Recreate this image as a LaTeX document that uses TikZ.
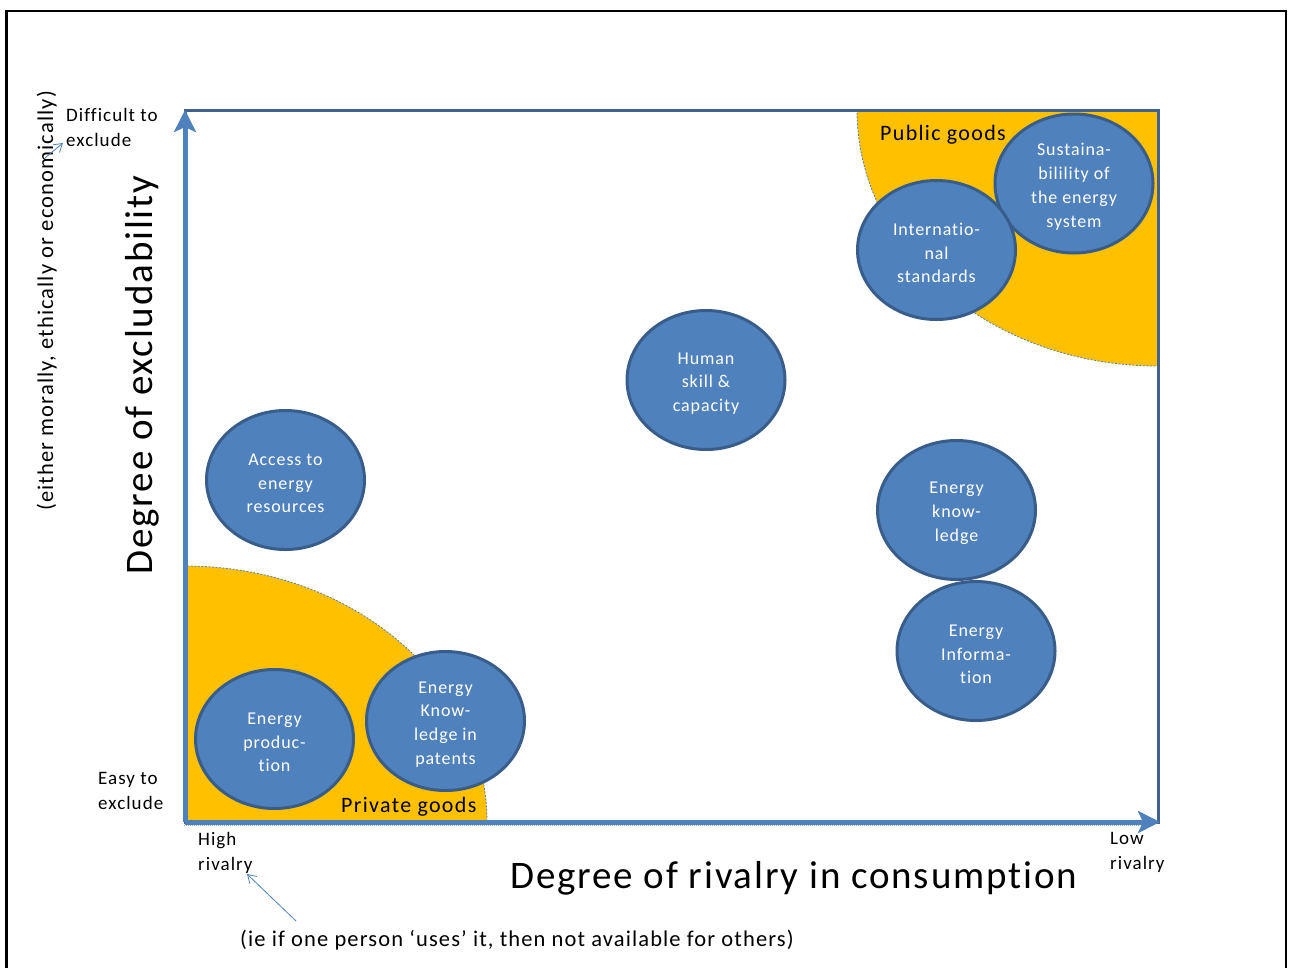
\documentclass[tikz,border=0pt]{standalone}
\usepackage{fontspec}
\setmainfont{Carlito}[Ligatures=NoCommon]
\usetikzlibrary{arrows.meta,shapes.geometric}
\definecolor{axisblue}{HTML}{4F81BD}
\definecolor{rimblue}{HTML}{385D8A}
\definecolor{plotrim}{HTML}{41618E}
\definecolor{gold}{HTML}{FFC000}
\newcommand\gtopstrut{\rule{0pt}{18.5pt}}
\begin{document}
\begin{tikzpicture}[x=1pt,y=-1pt,
  good/.style={ellipse, draw=rimblue, line width=3pt, fill=axisblue,
    minimum width=158pt, minimum height=139pt, inner sep=0pt,
    text=white, font=\fontsize{18}{23.8}\selectfont\addfontfeature{LetterSpace=5}, align=center},
  lbl/.style={font=\fontsize{19}{25}\selectfont\addfontfeature{LetterSpace=5.5}, align=left, anchor=north west, inner sep=0pt},
  zone/.style={font=\fontsize{22}{26}\selectfont\addfontfeature{LetterSpace=6}, anchor=base west, inner sep=0pt},
  axis/.style={axisblue, line width=5pt, -{Stealth[length=22pt,width=22pt,inset=5pt]}},
  note/.style={axisblue, line width=0.8pt, -{Straight Barb[length=8pt,width=10pt]}},
  big/.style={font=\fontsize{39}{44}\selectfont\addfontfeature{LetterSpace=4.75}, inner sep=0pt},
  mid/.style={font=\fontsize{22.5}{26}\selectfont\addfontfeature{LetterSpace=5}, inner sep=0pt, anchor=base},
]
\useasboundingbox (0,0) rectangle (1289,967);
% outer frame
\draw[black, line width=2.5pt] (6.5,980) -- (6.5,11) -- (1286,11) -- (1286,980);
% plot area
\fill[white] (185,110) rectangle (1158,822);
\begin{scope}
  \clip (185,110) rectangle (1158,822);
  \fill[gold] (1158,110) ellipse [x radius=301, y radius=256];
  \draw[axisblue, line width=0.8pt, dash pattern=on 2pt off 1.5pt] (1158,110) ellipse [x radius=301, y radius=256];
  \fill[gold] (185,822) ellipse [x radius=302, y radius=256];
  \draw[axisblue, line width=0.8pt, dash pattern=on 2pt off 1.5pt] (185,822) ellipse [x radius=302, y radius=256];
\end{scope}
\draw[plotrim, line width=3pt] (185,110) rectangle (1158,822);
% axes
\coordinate (origin) at (185,822);
\coordinate (ytop) at (185,110);
\coordinate (xend) at (1160,822);
\draw[gray!70, line width=1pt, dash pattern=on 1pt off 1pt] (184,825.5) -- (1140,825.5);
\draw[axis] (origin) -- (ytop);
\draw[axis] (origin) -- (xend);
% zone labels
\node[zone] (pub) at (880,140) {Public goods};
\node[zone] (priv) at (341,812) {Private goods};
% goods
\node[good] (sust) at (1074,183.5) {\gtopstrut Sustaina-\\bilility of\\the energy\\system};
\node[good] (intl) at (936.5,250) {\gtopstrut Internatio-\\nal\\standards};
\node[good] (human) at (706,380) {\gtopstrut Human\\skill \&\\capacity};
\node[good] (access) at (285.5,480) {\gtopstrut Access to\\energy\\resources};
\node[good] (eknow) at (956.5,510) {\gtopstrut Energy\\know-\\ledge};
\node[good] (einfo) at (976,651) {\gtopstrut Energy\\Informa-\\tion};
\node[good] (eprod) at (274.5,739) {\gtopstrut Energy\\produc-\\tion};
\node[good] (epat) at (445.5,721) {\gtopstrut Energy\\Know-\\ledge in\\patents};
% axis labels
\node[lbl] (diff) at (66,108.5) {Difficult to\\exclude};
\node[lbl] (easy) at (98,772.5) {Easy to\\exclude};
\node[lbl] (high) at (198,832.5) {High\\rivalry};
\node[lbl] (low) at (1110,832.5) {Low\\rivalry};
\node[big, anchor=base west] (xtitle) at (510,888) {Degree of rivalry in consumption};
\node[big, anchor=base, rotate=90] (ytitle) at (152,375) {Degree of excludability};
\node[mid, rotate=90] (ynote) at (53,301) {(either morally, ethically or economically)};
\node[mid] (xnote) at (517,946) {(ie if one person ‘uses’ it, then not available for others)};
% pointer arrows
\coordinate (ytail) at (45,158);
\coordinate (yhead) at (63,143);
\draw[note] (ytail) -- (yhead);
\coordinate (xtail) at (296,921);
\coordinate (xhead) at (247,874);
\draw[note] (xtail) -- (xhead);
\end{tikzpicture}
\end{document}
